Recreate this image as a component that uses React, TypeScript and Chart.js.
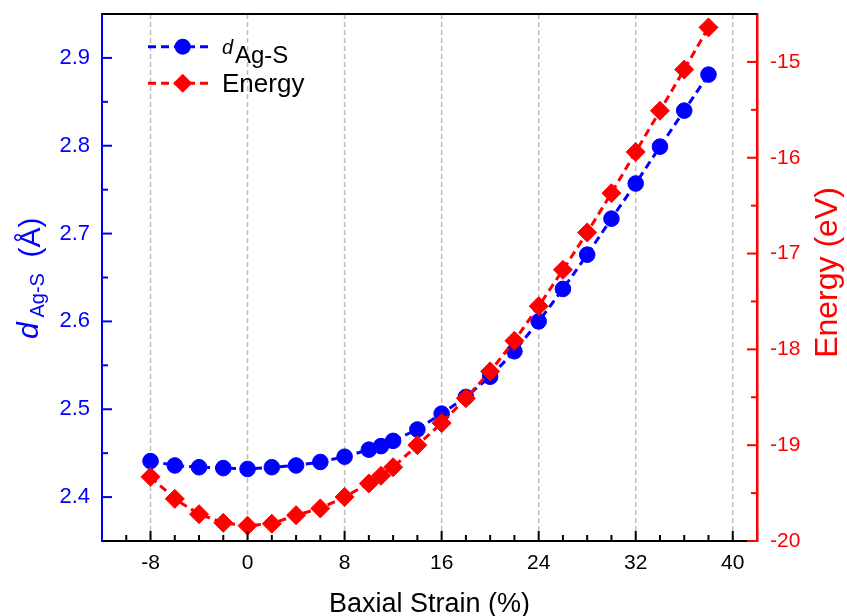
import React, { useEffect, useRef } from "react";
import { Chart, registerables } from "chart.js";

Chart.register(...registerables);

// ---- Data ----
const strain = [-8, -6, -4, -2, 0, 2, 4, 6, 8, 10, 11, 12, 14, 16, 18, 20, 22, 24, 26, 28, 30, 32, 34, 36, 38];
const dAgS = [
  2.441, 2.436, 2.434, 2.433, 2.432, 2.434, 2.436, 2.44, 2.446, 2.454, 2.458, 2.464, 2.477,
  2.495, 2.514, 2.537, 2.566, 2.6, 2.637, 2.676, 2.717, 2.757, 2.799, 2.84, 2.881,
];
const energy = [
  -19.33, -19.56, -19.72, -19.81, -19.84, -19.82, -19.73, -19.66, -19.54, -19.4, -19.32, -19.23,
  -19.0, -18.77, -18.51, -18.23, -17.91, -17.55, -17.17, -16.78, -16.37, -15.94, -15.51, -15.08, -14.64,
];

// ---- Ticks ----
const xMajorTicks = [-8, 0, 8, 16, 24, 32, 40];
const xMinorTicks = [-10, -6, -4, -2, 2, 4, 6, 10, 12, 14, 18, 20, 22, 26, 28, 30, 34, 36, 38];
const leftTicks = [2.4, 2.5, 2.6, 2.7, 2.8, 2.9];
const leftMinorTicks = [2.45, 2.55, 2.65, 2.75, 2.85];
const rightTicks = [-20, -19, -18, -17, -16, -15];
const rightMinorTicks = [-19.5, -18.5, -17.5, -16.5, -15.5];

const BLUE = "#0000ff";
const RED = "#ff0000";
const FONT = "'Liberation Sans', Arial, Helvetica, sans-serif";

const decorPlugin = {
  id: "decor",
  beforeDatasetsDraw(chart: any) {
    const { ctx, chartArea: a, scales } = chart;
    ctx.save();
    ctx.strokeStyle = "#bdbdbd";
    ctx.lineWidth = 1.5;
    ctx.setLineDash([5, 3]);
    for (const v of xMajorTicks) {
      const px = scales.x.getPixelForValue(v);
      ctx.beginPath();
      ctx.moveTo(px, a.top);
      ctx.lineTo(px, a.bottom);
      ctx.stroke();
    }
    ctx.restore();
  },
  afterDatasetsDraw(chart: any) {
    const { ctx, chartArea: a, scales } = chart;
    ctx.save();
    ctx.setLineDash([]);
    ctx.lineWidth = 2;
    ctx.strokeStyle = "#000";
    ctx.beginPath();
    ctx.moveTo(a.left, a.top);
    ctx.lineTo(a.right, a.top);
    ctx.stroke();
    const tick = (x1: number, y1: number, x2: number, y2: number) => {
      ctx.beginPath();
      ctx.moveTo(x1, y1);
      ctx.lineTo(x2, y2);
      ctx.stroke();
    };
    ctx.strokeStyle = "#000";
    for (const v of xMajorTicks) {
      const px = scales.x.getPixelForValue(v);
      tick(px, a.bottom, px, a.bottom - 10);
    }
    for (const v of xMinorTicks) {
      const px = scales.x.getPixelForValue(v);
      tick(px, a.bottom, px, a.bottom - 6);
    }
    ctx.strokeStyle = BLUE;
    for (const v of leftTicks) {
      const py = scales.y.getPixelForValue(v);
      tick(a.left, py, a.left + 10, py);
    }
    for (const v of leftMinorTicks) {
      const py = scales.y.getPixelForValue(v);
      tick(a.left, py, a.left + 6, py);
    }
    ctx.strokeStyle = RED;
    for (const v of rightTicks) {
      const py = scales.y1.getPixelForValue(v);
      tick(a.right, py, a.right - 10, py);
    }
    for (const v of rightMinorTicks) {
      const py = scales.y1.getPixelForValue(v);
      tick(a.right, py, a.right - 6, py);
    }
    ctx.restore();
  },
  afterDraw(chart: any) {
    const { ctx, chartArea: a } = chart;
    const yc = (a.top + a.bottom) / 2;
    ctx.save();
    ctx.textBaseline = "alphabetic";

    // x title
    ctx.fillStyle = "#000";
    ctx.textAlign = "center";
    ctx.font = `27px ${FONT}`;
    ctx.fillText("Baxial Strain (%)", (a.left + a.right) / 2, a.bottom + 70.5);

    // left title: d_{Ag-S} (Å), rotated
    ctx.fillStyle = BLUE;
    ctx.textAlign = "left";
    const rot = (text: string, font: string, bx: number, sy: number) => {
      ctx.save();
      ctx.translate(bx, sy);
      ctx.rotate(-Math.PI / 2);
      ctx.font = font;
      ctx.fillText(text, 0, 0);
      ctx.restore();
    };
    rot("d", `italic 30px ${FONT}`, a.left - 64, yc + 61.5);
    rot("Ag-S", `20px ${FONT}`, a.left - 58, yc + 40);
    rot("(Å)", `30px ${FONT}`, a.left - 62, yc - 20);

    // right title
    ctx.fillStyle = RED;
    ctx.save();
    ctx.translate(a.right + 80, yc - 5);
    ctx.rotate(-Math.PI / 2);
    ctx.textAlign = "center";
    ctx.font = `32px ${FONT}`;
    ctx.fillText("Energy (eV)", 0, 0);
    ctx.restore();

    // legend
    const lx1 = a.left + 46;
    const lx2 = a.left + 111;
    const mx = a.left + 80.7;
    const tx = a.left + 120;
    const r1 = a.top + 32.7;
    const r2 = a.top + 69.3;
    ctx.lineWidth = 3;
    ctx.setLineDash([8, 5]);
    ctx.strokeStyle = BLUE;
    ctx.beginPath();
    ctx.moveTo(lx1, r1);
    ctx.lineTo(lx2, r1);
    ctx.stroke();
    ctx.strokeStyle = RED;
    ctx.beginPath();
    ctx.moveTo(lx1, r2);
    ctx.lineTo(lx2, r2);
    ctx.stroke();
    ctx.setLineDash([]);
    ctx.fillStyle = BLUE;
    ctx.beginPath();
    ctx.arc(mx, r1, 8, 0, Math.PI * 2);
    ctx.fill();
    ctx.fillStyle = RED;
    ctx.beginPath();
    ctx.moveTo(mx, r2 - 9.5);
    ctx.lineTo(mx + 9.5, r2);
    ctx.lineTo(mx, r2 + 9.5);
    ctx.lineTo(mx - 9.5, r2);
    ctx.closePath();
    ctx.fill();

    ctx.textAlign = "left";
    ctx.fillStyle = "#000";
    ctx.font = `italic 20px ${FONT}`;
    ctx.fillText("d", tx, r1 + 7.3);
    ctx.font = `24px ${FONT}`;
    ctx.fillText("Ag-S", tx + 13, r1 + 16);
    ctx.font = `26px ${FONT}`;
    ctx.fillText("Energy", tx, r2 + 8.4);
    ctx.restore();
  },
};

const noPadX = (s: any) => {
  s.height = 75;
  s.paddingLeft = 0;
  s.paddingRight = 0;
  s.paddingTop = 0;
  s.paddingBottom = 0;
};

export default function App() {
  const ref = useRef<HTMLCanvasElement>(null);

  useEffect(() => {
    const canvas = ref.current;
    if (!canvas) return;
    const chart = new Chart(canvas, {
      type: "line",
      data: {
        datasets: [
          {
            label: "Energy",
            data: strain.map((x, i) => ({ x, y: energy[i] })),
            yAxisID: "y1",
            xAxisID: "x",
            borderColor: RED,
            backgroundColor: RED,
            borderWidth: 3,
            borderDash: [8, 5],
            pointStyle: "rectRot",
            pointRadius: 9.5,
            pointBorderWidth: 1,
            pointBorderColor: RED,
            pointBackgroundColor: RED,
            tension: 0,
            order: 1,
          },
          {
            label: "d Ag-S",
            data: strain.map((x, i) => ({ x, y: dAgS[i] })),
            yAxisID: "y",
            xAxisID: "x",
            borderColor: BLUE,
            backgroundColor: BLUE,
            borderWidth: 3,
            borderDash: [8, 5],
            pointStyle: "circle",
            pointRadius: 7.8,
            pointBorderWidth: 1,
            pointBorderColor: BLUE,
            pointBackgroundColor: BLUE,
            tension: 0,
            order: 2,
          },
        ],
      },
      options: {
        animation: false,
        responsive: false,
        maintainAspectRatio: false,
        events: [],
        layout: { padding: { top: 14, left: 0, right: 0, bottom: 0 } },
        plugins: {
          legend: { display: false },
          tooltip: { enabled: false },
          title: { display: false },
        },
        scales: {
          x: {
            type: "linear",
            position: "bottom",
            min: -12,
            max: 42,
            afterBuildTicks: (s: any) => {
              s.ticks = xMajorTicks.map((v) => ({ value: v }));
            },
            afterFit: noPadX,
            grid: { display: false, drawTicks: false },
            border: { display: true, color: "#000", width: 2 },
            ticks: {
              color: "#000",
              padding: 10,
              maxRotation: 0,
              autoSkip: false,
              font: { family: FONT, size: 21 },
              callback: (v: any) => String(v),
            },
          },
          y: {
            type: "linear",
            position: "left",
            min: 2.35,
            max: 2.95,
            afterBuildTicks: (s: any) => {
              s.ticks = leftTicks.map((v) => ({ value: v }));
            },
            afterFit: (s: any) => {
              s.width = 102;
              s.paddingTop = 0;
              s.paddingBottom = 0;
              s.paddingLeft = 0;
              s.paddingRight = 0;
            },
            grid: { display: false, drawTicks: false },
            border: { display: true, color: BLUE, width: 2 },
            ticks: {
              color: BLUE,
              padding: 12,
              autoSkip: false,
              font: { family: FONT, size: 22 },
              callback: (v: any) => Number(v).toFixed(1),
            },
          },
          y1: {
            type: "linear",
            position: "right",
            min: -20,
            max: -14.5,
            afterBuildTicks: (s: any) => {
              s.ticks = rightTicks.map((v) => ({ value: v }));
            },
            afterFit: (s: any) => {
              s.width = 90;
              s.paddingTop = 0;
              s.paddingBottom = 0;
              s.paddingLeft = 0;
              s.paddingRight = 0;
            },
            grid: { display: false, drawTicks: false },
            border: { display: true, color: RED, width: 2.5 },
            ticks: {
              color: RED,
              padding: 13,
              autoSkip: false,
              font: { family: FONT, size: 21 },
              callback: (v: any) => String(v),
            },
          },
        },
      },
      plugins: [decorPlugin],
    } as any);
    return () => chart.destroy();
  }, []);

  return (
    <div style={{ position: "absolute", left: 0, top: 0, width: 847, height: 616, background: "#fff" }}>
      <canvas ref={ref} width={847} height={616} style={{ display: "block", width: 847, height: 616 }} />
    </div>
  );
}
